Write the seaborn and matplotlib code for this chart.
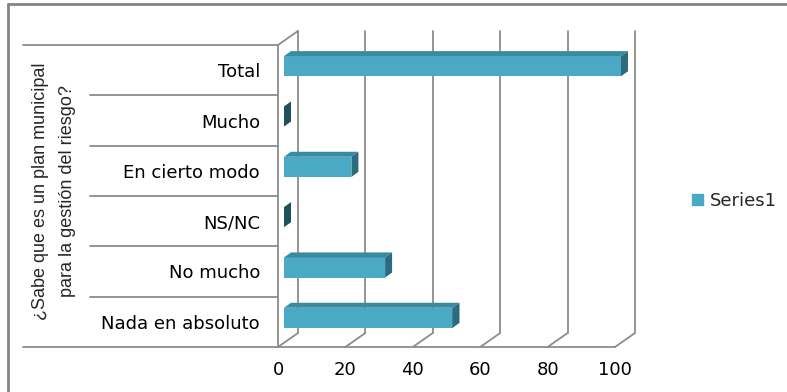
import numpy as np
import pandas as pd
import matplotlib
matplotlib.use('Agg')
import matplotlib.pyplot as plt
import seaborn as sns
from matplotlib.patches import Polygon, Patch
from matplotlib.lines import Line2D
from matplotlib.transforms import ScaledTranslation, blended_transform_factory

# data
categories = ['Total', 'Mucho', 'En cierto modo', 'NS/NC', 'No mucho', 'Nada en absoluto']
values = [100, 0, 20, 0, 30, 50]
xticks = [0, 20, 40, 60, 80, 100]
question = '¿Sabe que es un plan municipal\npara la gestión del riesgo?'
series_name = 'Series1'

df = pd.DataFrame({'respuesta': categories, 'valor': values})

sns.set_style('white')
plt.rcParams['font.family'] = ['DejaVu Sans']

W, H = 787, 392
fig = plt.figure(figsize=(W / 100, H / 100), dpi=100)
ax = fig.add_axes([278 / W, (H - 347) / H, 337 / W, 302 / H])

front_c = '#4AAAC5'
top_c = '#3A8AA0'
side_c = '#2A6C7E'
line_c = '#8C8C8C'

sns.barplot(data=df, x='valor', y='respuesta', orient='h', color=front_c,
            width=0.40, saturation=1, ax=ax)
ax.set_xlim(0, 100)
ax.set_ylim(len(categories) - 0.5, -0.5)

# pixel -> data units, for the fake 3D depth
ux = 337 / 100.0
uy = 302 / len(categories)
bdx, bdy = 20 / ux, 14 / uy     # back wall offset
ddx, ddy = 7 / ux, 5 / uy       # bar depth

def shift(dx, dy):
    return ScaledTranslation(dx / fig.dpi, dy / fig.dpi, fig.dpi_scale_trans)

bar_tr = ax.transData + shift(6, 4)

# back wall gridlines, floor and left wall
y_top, y_bot = -0.5, len(categories) - 0.5
for t in xticks:
    ax.plot([t + bdx, t + bdx], [y_bot - bdy, y_top - bdy], color=line_c, lw=1.3, clip_on=False, zorder=1)
    ax.plot([t, t + bdx], [y_bot, y_bot - bdy], color=line_c, lw=1.3, clip_on=False, zorder=1)
ax.plot([0, 0], [y_top, y_bot], color=line_c, lw=1.3, clip_on=False, zorder=1)
ax.plot([0, bdx], [y_top, y_top - bdy], color=line_c, lw=1.3, clip_on=False, zorder=1)
ax.plot([0, 100], [y_bot, y_bot], color=line_c, lw=1.3, clip_on=False, zorder=1)

# left category table lines (outer ones reach under the axis title)
tbl = blended_transform_factory(fig.transFigure, ax.transData)
for b in np.arange(y_top, y_bot + 1):
    x_start = 23 / W if b in (y_top, y_bot) else 90 / W
    ax.plot([x_start, 278 / W], [b, b], transform=tbl, color=line_c, lw=1.3, clip_on=False, zorder=1)

# bars: shift front face and add top / side faces
for p in list(ax.patches):
    p.set_transform(bar_tr)
    p.set_edgecolor('none')
    p.set_clip_on(False)
    p.set_zorder(3)
    x0, x1 = p.get_x(), p.get_x() + p.get_width()
    yt, yb = p.get_y(), p.get_y() + p.get_height()
    top = Polygon([(x0, yt), (x1, yt), (x1 + ddx, yt - ddy), (x0 + ddx, yt - ddy)],
                  closed=True, facecolor=top_c, edgecolor='none', transform=bar_tr,
                  clip_on=False, zorder=3)
    side = Polygon([(x1, yt), (x1, yb), (x1 + ddx, yb - ddy), (x1 + ddx, yt - ddy)],
                   closed=True, facecolor=side_c if p.get_width() > 0 else '#1F5060',
                   edgecolor='none', transform=bar_tr, clip_on=False, zorder=3)
    ax.add_patch(top)
    ax.add_patch(side)

sns.despine(ax=ax, left=True, bottom=True)
ax.set_xticks(xticks)
ax.set_xlabel('')
ax.set_ylabel('')
ax.tick_params(axis='x', length=4, width=1, color=line_c, pad=6, labelsize=13, labelcolor='black')
ax.tick_params(axis='y', length=0, pad=13, labelsize=13, labelcolor='black')

fig.text(54 / W, 1 - 191 / H, question, rotation=90, ha='center', va='center',
         multialignment='center', fontsize=13, family='Liberation Sans', linespacing=1.75)

fig.legend(handles=[Patch(color=front_c, label=series_name)], loc='center left',
           bbox_to_anchor=(692 / W, 1 - 201 / H), frameon=False, fontsize=13,
           handlelength=0.6, handleheight=0.6, handletextpad=0.4, borderpad=0, borderaxespad=0)

# outer frame (only left and top visible)
fig.add_artist(Line2D([8 / W, 8 / W], [0, 1 - 4 / H], transform=fig.transFigure, color='#858585', lw=2))
fig.add_artist(Line2D([8 / W, 1], [1 - 4 / H, 1 - 4 / H], transform=fig.transFigure, color='#858585', lw=2))

fig.savefig('out.png', dpi=100)
